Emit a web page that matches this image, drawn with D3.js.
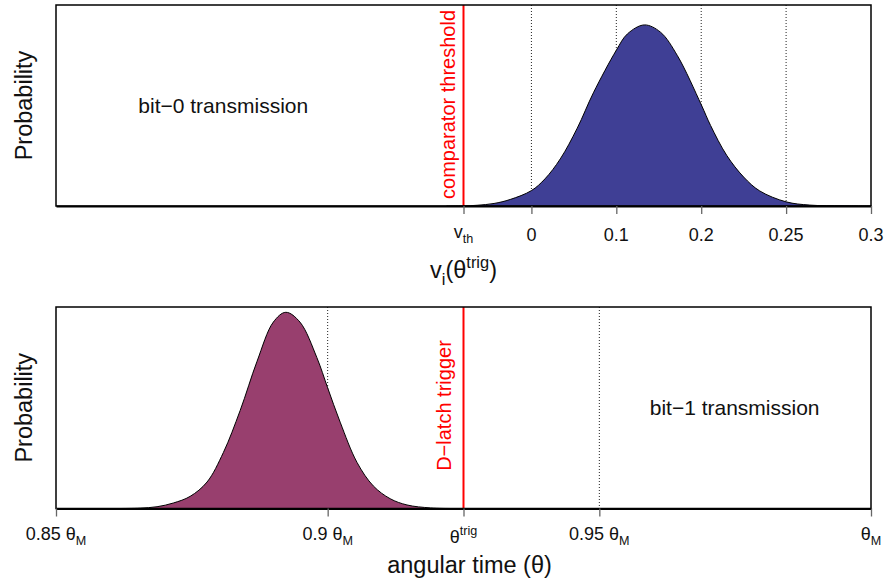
<!DOCTYPE html>
<html>
<head>
<meta charset="utf-8">
<script src="https://cdn.jsdelivr.net/npm/d3@7"></script>
<style>
  body { margin: 0; background: #fff; }
  text { font-family: "Liberation Sans", Arial, Helvetica, sans-serif; }
</style>
</head>
<body>
<script>
const width = 887;
const height = 582;

// top panel: comparator input v_i(theta^trig), density
const topV = [-0.1, -0.08, -0.064, -0.044, -0.025, 0, 0.016, 0.034, 0.054, 0.073, 0.1, 0.113, 0.133,
  0.152, 0.172, 0.2, 0.211, 0.23, 0.25, 0.269, 0.3, 0.328, 0.367, 0.4];
const topP = [0, 0.0005, 0.004, 0.014, 0.036, 0.085, 0.15, 0.26, 0.43, 0.625, 0.86, 0.95, 1.0,
  0.96, 0.83, 0.56, 0.445, 0.28, 0.16, 0.083, 0.023, 0.005, 0.001, 0];
const topTicks = [-0.08, 0, 0.1, 0.2, 0.3, 0.4];
const topTickLabels = ["v_{th}", "0", "0.1", "0.2", "0.25", "0.3"];
const topDotted = [0, 0.1, 0.2, 0.3];
const vth = -0.08;

// bottom panel: angular time theta
const botT = [0.862, 0.8655, 0.8686, 0.8716, 0.8747, 0.8778, 0.8808, 0.8839, 0.887, 0.89, 0.8923,
  0.8949, 0.898, 0.9, 0.9023, 0.9054, 0.9084, 0.9115, 0.9146, 0.9189, 0.9226];
const botP = [0, 0.002, 0.009, 0.028, 0.062, 0.135, 0.285, 0.5, 0.75, 0.95, 1.0,
  0.95, 0.77, 0.615, 0.44, 0.235, 0.115, 0.05, 0.018, 0.003, 0];
const botTicks = [0.85, 0.9, 0.925, 0.95, 1.0];
const botTickLabels = ["0.85 θ_{M}", "0.9 θ_{M}", "θ^{trig}", "0.95 θ_{M}", "θ_{M}"];
const botDotted = [0.9, 0.95];
const thetaTrig = 0.925;

const svg = d3
  .select("body")
  .append("svg")
  .attr("width", width)
  .attr("height", height);

// writes "a_{b}" / "a^{b}" style labels as tspans
function mathText(sel, label, fs) {
  const re = /([_^])\{([^}]*)\}|([^_^]+)/g;
  let cur = 0, m;
  while ((m = re.exec(label))) {
    let shift = 0, size = fs, txt = m[3];
    if (m[1]) {
      txt = m[2];
      size = fs * 0.7;
      shift = m[1] === "_" ? fs * 0.3 : -fs * 0.42;
    }
    sel.append("tspan").attr("dy", shift - cur).attr("font-size", size).text(txt);
    cur = shift;
  }
}

const panels = [
  {
    top: 5, bottom: 206, domain: [-0.56, 0.4], ymax: 1.11,
    xs: topV, ps: topP, fill: "#3f3f95",
    ticks: topTicks, labels: topTickLabels, dotted: topDotted,
    line: vth, lineText: "comparator threshold", lineTextY: 0.039, lineTextDx: -9,
    note: "bit\u22120 transmission", noteX: -0.363, noteY: 0.514,
    title: "v_{i}(θ^{trig})", titleOffset: 72, titleDx: 0,
  },
  {
    top: 307, bottom: 508.5, domain: [0.85, 1.0], ymax: 1.027,
    xs: botT, ps: botP, fill: "#983f6e",
    ticks: botTicks, labels: botTickLabels, dotted: botDotted,
    line: thetaTrig, lineText: "D\u2212latch trigger", lineTextY: 0.192, lineTextDx: -13,
    note: "bit\u22121 transmission", noteX: 0.9749, noteY: 0.476,
    title: "angular time (θ)", titleOffset: 64.4, titleDx: 6,
  },
];

const left = 56, right = 871;

panels.forEach((p) => {
  const x = d3.scaleLinear().domain(p.domain).range([left, right]);
  const y = d3.scaleLinear().domain([0, p.ymax]).range([p.bottom, p.top]);
  const g = svg.append("g");
  const pts = p.xs.map((v, i) => [v, p.ps[i]]);
  const curve = d3.curveCatmullRom.alpha(0.5);

  // dotted guides
  g.selectAll(".guide")
    .data(p.dotted)
    .enter()
    .append("line")
    .attr("x1", (d) => x(d))
    .attr("x2", (d) => x(d))
    .attr("y1", p.top)
    .attr("y2", p.bottom)
    .attr("stroke", "#222")
    .attr("stroke-width", 1)
    .attr("stroke-dasharray", "1,2");

  // density
  g.append("path")
    .datum(pts)
    .attr("d", d3.area().x((d) => x(d[0])).y0(y(0)).y1((d) => y(d[1])).curve(curve))
    .attr("fill", p.fill);
  g.append("path")
    .datum(pts)
    .attr("d", d3.line().x((d) => x(d[0])).y((d) => y(d[1])).curve(curve))
    .attr("fill", "none")
    .attr("stroke", "#000")
    .attr("stroke-width", 1);

  // threshold / trigger line
  g.append("line")
    .attr("x1", x(p.line))
    .attr("x2", x(p.line))
    .attr("y1", p.top)
    .attr("y2", p.bottom)
    .attr("stroke", "#ff0000")
    .attr("stroke-width", 2);

  g.append("text")
    .attr("transform", `translate(${x(p.line) + p.lineTextDx},${y(p.lineTextY)}) rotate(-90)`)
    .attr("fill", "#ff0000")
    .attr("font-size", 20)
    .attr("text-anchor", "start")
    .text(p.lineText);

  g.append("text")
    .attr("x", x(p.noteX))
    .attr("y", y(p.noteY))
    .attr("font-size", 21)
    .attr("text-anchor", "middle")
    .attr("fill", "#111")
    .text(p.note);

  // box
  g.append("rect")
    .attr("x", left)
    .attr("y", p.top)
    .attr("width", right - left)
    .attr("height", p.bottom - p.top)
    .attr("fill", "none")
    .attr("stroke", "#000")
    .attr("stroke-width", 1.5);

  // axis
  const ax = g.append("g")
    .attr("transform", `translate(0,${p.bottom})`)
    .call(d3.axisBottom(x).tickValues(p.ticks).tickSize(8).tickSizeOuter(0).tickFormat(""));
  ax.select(".domain").attr("stroke", "#000").attr("stroke-width", 2);
  ax.selectAll(".tick line").attr("stroke", "#666").attr("stroke-width", 1.3);

  p.ticks.forEach((t, i) => {
    const lab = p.labels[i];
    const raise = lab.includes("_") ? -3 : 0;
    const tx = g.append("text")
      .attr("x", x(t))
      .attr("y", p.bottom + 34.5 + raise)
      .attr("text-anchor", "middle")
      .attr("fill", "#111");
    mathText(tx, lab, 18);
  });

  const title = g.append("text")
    .attr("x", (left + right) / 2 + p.titleDx)
    .attr("y", p.bottom + p.titleOffset)
    .attr("text-anchor", "middle")
    .attr("fill", "#111");
  mathText(title, p.title, 23.5);

  g.append("text")
    .attr("transform", `translate(32,${(p.top + p.bottom) / 2}) rotate(-90)`)
    .attr("text-anchor", "middle")
    .attr("font-size", 23.5)
    .attr("fill", "#111")
    .text("Probability");
});
</script>
</body>
</html>
